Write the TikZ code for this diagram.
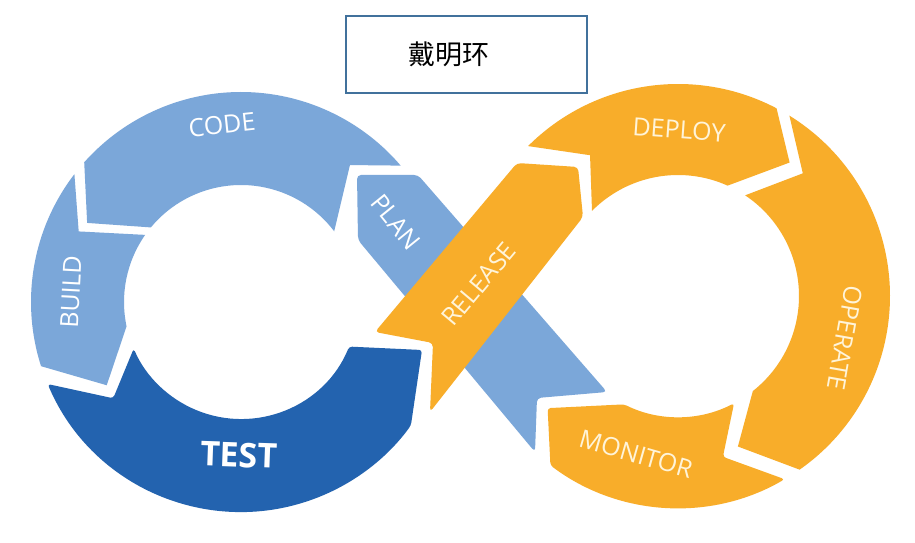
\documentclass[tikz,border=0pt]{standalone}
\usepackage{fontspec}
\setmainfont{Open Sans}
\newfontfamily\cjk{Noto Sans CJK SC}
\definecolor{lb}{HTML}{7BA7D9}
\definecolor{db}{HTML}{2363AF}
\definecolor{org}{HTML}{F8AD2A}
\definecolor{frame}{HTML}{41719C}
\definecolor{cream}{HTML}{FFF4D9}
\tikzset{
  lbl/.style ={font=\fontsize{25}{28}\selectfont,text=white,inner sep=0pt},
  olbl/.style={lbl,text=cream},
  titlebox/.style={draw=frame,line width=1.4pt,fill=white,minimum height=77pt,text width=117pt,inner xsep=62pt,align=left,font=\cjk\fontsize{27}{30}\selectfont},
}
% ring piece: fill, tail outer / notch / tail inner, head outer / tip / head inner
\newcommand{\arcpiece}[7]{\fill[#1] (#2:\rout) arc[start angle=#2,end angle=#5,radius=\rout] -- (#6) -- (#7:\rin) arc[start angle=#7,end angle=#4,radius=\rin] -- (#3) -- cycle;}

\begin{document}
\begin{tikzpicture}[x=1pt,y=1pt]
\useasboundingbox (0,0) rectangle (915,543);
\fill[white] (0,0) rectangle (915,543);
% title
\node[titlebox] (title) at (466.5,488.5) {戴明环};
% plan band (under release)
\fill[lb,rounded corners=4pt] (357,368) -- (418,368) -- (607,151) -- (537,145) -- (535,91) -- (358,303) -- cycle;
% left loop
\begin{scope}[shift={(241,241)}]
  \def\rout{210}\def\rin{117}
  \arcpiece{lb}{40.5}{51.5:175}{37.2}{138.3}{152.8:173}{140.4}
  \arcpiece{lb}{142.5}{156.5:177}{145}{197.8}{211.8:158}{192}
  \fill[db,rounded corners=3pt] (-157:\rout) arc[start angle=-157,end angle=-36,radius=\rout] -- (181,-48) -- (-22.4:\rin) arc[start angle=-22.4,end angle=-156.5,radius=\rin] -- (-143:160) -- cycle;
\end{scope}
% right loop
\begin{scope}[shift={(678,247)}]
  \def\rout{212}\def\rin{121}
  \arcpiece{org}{135}{122:166}{135.3}{62.3}{50.1:174}{65.8}
  \arcpiece{org}{58.3}{44.5:175}{56.3}{-55}{-68.3:162}{-51.8}
  \arcpiece{org,rounded corners=3pt}{-59.8}{-74.4:167}{-62.4}{-127}{-139.3:172}{-116.4}
\end{scope}
% release band (on top)
\fill[org,rounded corners=4pt] (375,211) -- (517,380) -- (578,376) -- (583,326) -- (430,131) -- (433,200) -- cycle;
% labels
\node[lbl,rotate=6] (code) at (222,418) {CODE};
\node[lbl,rotate=87] (build) at (71,251) {BUILD};
\node[lbl,font=\fontsize{34}{38}\selectfont\bfseries,rotate=-2] (test) at (239,88) {TEST};
\node[lbl,rotate=-51] (plan) at (396,321) {PLAN};
\node[olbl,rotate=50] (release) at (479,259) {RELEASE};
\node[olbl,rotate=-4] (deploy) at (679,413) {DEPLOY};
\node[olbl,rotate=-100] (operate) at (845,205) {OPERATE};
\node[olbl,rotate=-16] (monitor) at (636,89) {MONITOR};
\end{tikzpicture}
\end{document}
